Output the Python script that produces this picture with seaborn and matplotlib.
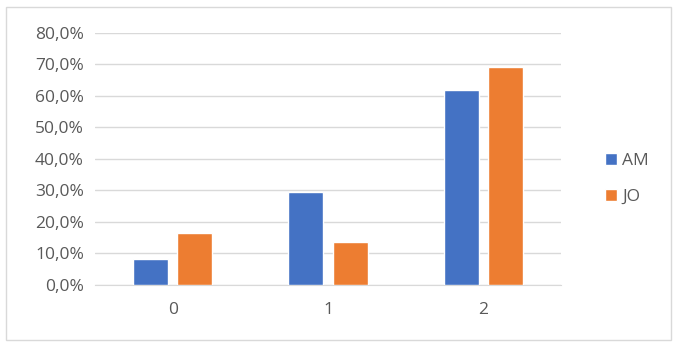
import numpy as np
import pandas as pd
import matplotlib as mpl
mpl.use('Agg')
import matplotlib.pyplot as plt
import seaborn as sns
from matplotlib.ticker import FuncFormatter
from matplotlib.patches import Rectangle

categories = ['0', '1', '2']
am = [0.083, 0.294, 0.618]
jo = [0.166, 0.135, 0.692]
series_names = ['AM', 'JO']
colors = ['#4472C4', '#ED7D31']

df = pd.DataFrame({
  'cat': categories * 2,
  'val': am + jo,
  'series': [series_names[0]] * 3 + [series_names[1]] * 3,
})

sns.set_style('white')
plt.rcParams['font.family'] = ['Open Sans', 'DejaVu Sans']

fig = plt.figure(figsize=(6.77, 3.43), dpi=100)
ax = fig.add_axes([95/677, 1 - 285/343, (561-95)/677, (285-32.7)/343])

sns.barplot(data=df, x='cat', y='val', hue='series', palette=colors, saturation=1,
            width=0.57, gap=0.21, ax=ax, zorder=3)

ax.set_ylim(0, 0.8)
ax.set_yticks(np.arange(0, 0.81, 0.1))
ax.yaxis.set_major_formatter(FuncFormatter(lambda v, p: f'{v*100:.1f}%'.replace('.', ',')))
ax.grid(axis='y', color='#D9D9D9', linewidth=1, zorder=0)
ax.set_xlabel('')
ax.set_ylabel('')
for s in ['top', 'right', 'left']:
  ax.spines[s].set_visible(False)
ax.spines['bottom'].set_color('#D9D9D9')
ax.tick_params(axis='both', length=0, labelsize=12.5, labelcolor='#595959')
ax.tick_params(axis='y', pad=8)
ax.tick_params(axis='x', pad=12)

leg = ax.legend(loc='center left', bbox_to_anchor=(1.06, 0.42), frameon=False,
                fontsize=12.5, handlelength=0.7, handleheight=0.7, handletextpad=0.3,
                labelspacing=1.1)
for t in leg.get_texts():
  t.set_color('#595959')

# outer chart border
fig.patches.append(Rectangle((6/677, 3/343), 665/677, 333/343, transform=fig.transFigure,
                             fill=False, edgecolor='#D9D9D9', linewidth=1))

fig.savefig('out.png', dpi=100)
